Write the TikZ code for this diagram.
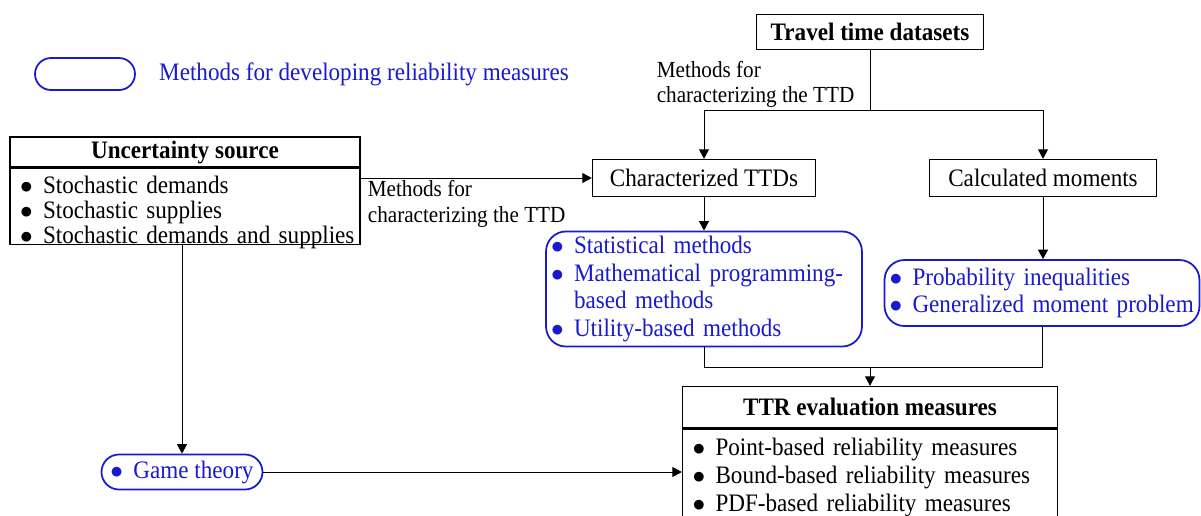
\documentclass[tikz,border=0pt]{standalone}
\usepackage{fontspec}
\setmainfont{Liberation Serif}[FakeStretch=0.92]
\usepackage{tikz}
\usetikzlibrary{arrows.meta}
\usetikzlibrary{positioning}
\definecolor{methblue}{RGB}{25,25,205}
\newcommand{\dfont}{\fontsize{14.3}{15}\selectfont}
\newcommand{\itm}{\makebox[0.46cm][l]{$\bullet$}}
\newcommand{\cnt}{\hspace*{0.46cm}}

\begin{document}
\begin{tikzpicture}[x=0.02cm,y=-0.02cm,>={Triangle[length=0.19cm,width=0.2cm]},
  every node/.style={font=\dfont},
  box/.style={draw,line width=0.8pt,inner sep=2pt},
  method/.style={draw=methblue,text=methblue,line width=1pt,rounded corners=0.4cm,align=left,inner sep=0.1cm},
  lbl/.style={align=left,inner sep=1pt,font=\fontsize{13.1}{14.6}\selectfont},
  link/.style={->,line width=0.5pt}]
  \path[use as bounding box] (0,0) rectangle (1201,515);
  \clip (0,0) rectangle (1201,515);

  % legend
  \node[method,minimum width=2cm,minimum height=0.64cm,rounded corners=0.32cm] (leg) at (85,74) {};
  \node[right=0.46cm of leg,text=methblue,inner sep=0pt] (legtxt) {Methods for developing reliability measures};

  % uncertainty source
  \node[box,minimum width=7cm,minimum height=0.56cm,font=\dfont\bfseries] (usrc) at (185,152) {Uncertainty source};
  \node[box,below=0pt of usrc,minimum width=7cm,minimum height=1.52cm,inner sep=0pt] (uframe) {};
  \node[text width=6.7cm,align=left,inner sep=0pt,xshift=0.05cm,yshift=-0.12cm,font=\fontsize{14.3}{14.2}\selectfont] (uitems)
    at (uframe.center)
    {\itm Stochastic demands\\ \itm Stochastic supplies\\ \itm Stochastic demands and supplies};

  % travel time data and its two branches
  \node[box,minimum width=4.54cm,minimum height=0.7cm,font=\dfont\bfseries] (ttd) at (870,32) {Travel time datasets};
  \coordinate (split) at (870,110);
  \node[box,minimum width=4.46cm,minimum height=0.74cm] (cttd) at (704,178) {Characterized TTDs};
  \node[box,minimum width=4.54cm,minimum height=0.74cm] (cmom) at (1043,178) {Calculated moments};

  \node[method,text width=6.12cm,minimum height=2.2cm,font=\fontsize{14.3}{15.6}\selectfont] (stat) at (704,289)
    {\itm Statistical methods\\ \itm Mathematical programming-\\ \cnt based methods\\ \itm Utility-based methods};
  \node[method,text width=6.1cm,minimum height=1.32cm,font=\fontsize{14.3}{15.4}\selectfont] (prob) at (1042,293)
    {\itm Probability inequalities\\ \itm Generalized moment problem};

  % evaluation measures
  \node[box,minimum width=7.5cm,minimum height=0.82cm,font=\dfont\bfseries] (ttr) at (870,407) {TTR evaluation measures};
  \node[box,below=0pt of ttr,minimum width=7.5cm,minimum height=1.96cm,text width=7.1cm,align=left,
    font=\fontsize{14.3}{15.9}\selectfont] (ttritems)
    {\itm Point-based reliability measures\\ \itm Bound-based reliability measures\\ \itm PDF-based reliability measures};
  \coordinate (merge) at (870,367);

  \node[method,minimum width=3.22cm,minimum height=0.7cm,rounded corners=0.35cm] (game) at (182,472) {\itm Game theory};

  \draw[link] (uframe.east |- cttd.west) -- node[lbl,pos=0,anchor=north west,xshift=0.1cm]
    {Methods for\\characterizing the TTD} (cttd.west);
  \draw[link] (ttd.south) -- node[lbl,pos=1,anchor=south east,xshift=-0.27cm]
    {Methods for\\characterizing the TTD} (split) -| (cttd.north);
  \draw[link] (split) -| (cmom.north);
  \draw[link] (cttd) -- (stat);
  \draw[link] (cmom.south) -- (cmom.south |- prob.north);
  \draw[line width=0.5pt] (stat.south) |- (merge) -| (prob.south);
  \draw[link] (merge) -- (ttr.north);
  \draw[link] (uframe.south -| game.north) -- (game.north);
  \draw[link] (game.east) -- (game.east -| ttritems.west);
\end{tikzpicture}
\end{document}
